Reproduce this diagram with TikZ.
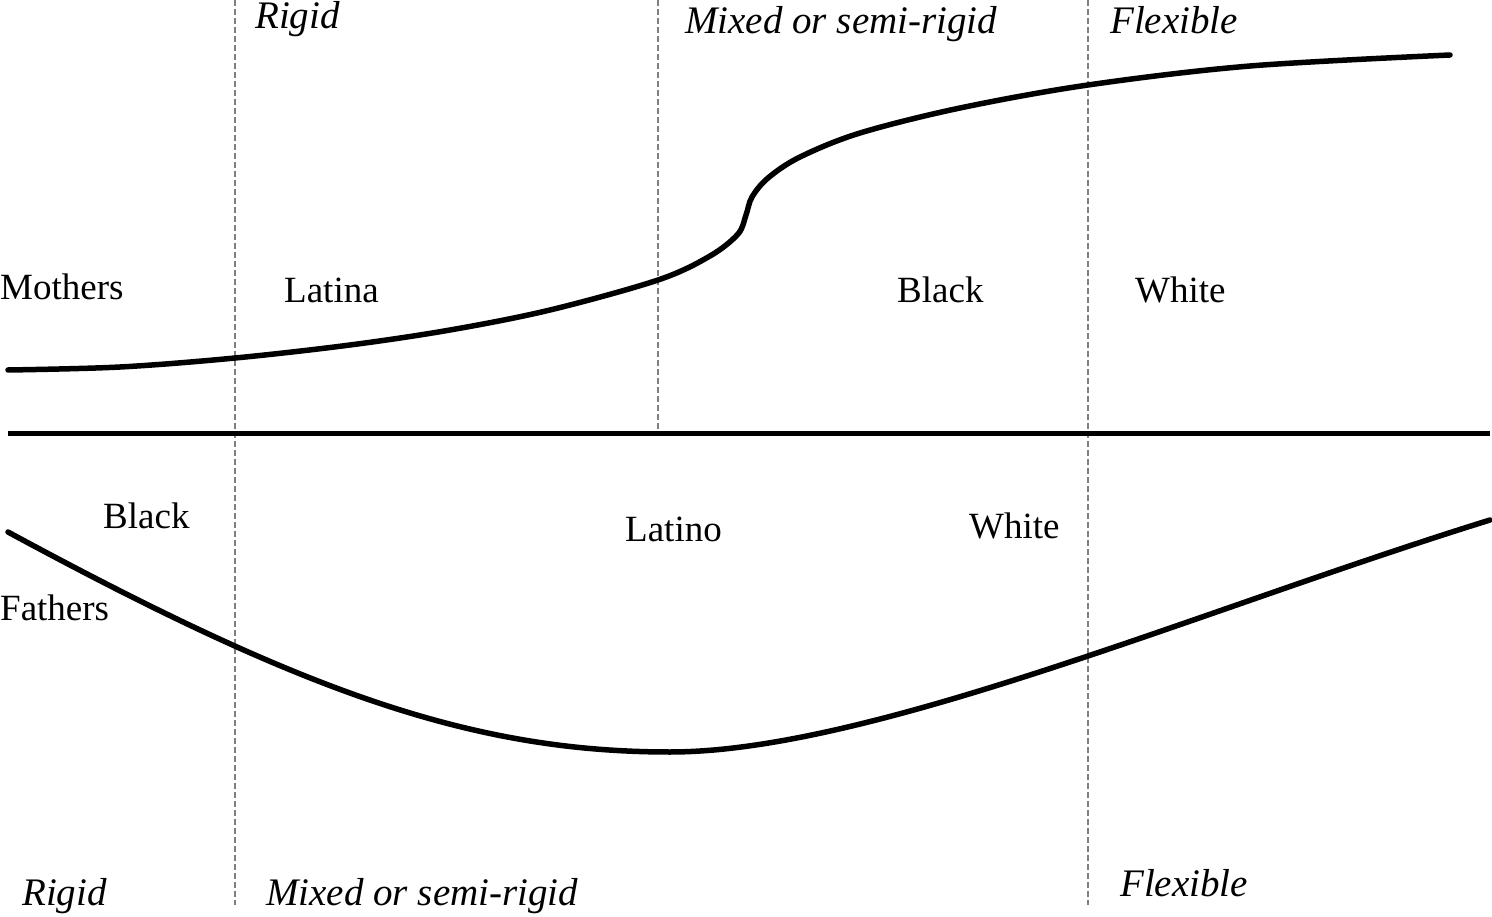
\documentclass[tikz,border=0pt]{standalone}
\usepackage{fontspec}
\setmainfont{Liberation Serif}
\tikzset{
  lbl/.style={anchor=base west, inner sep=0pt, font=\fontsize{37}{40}\selectfont},
  cat/.style={anchor=base west, inner sep=0pt, font=\fontsize{39}{42}\selectfont\itshape},
  curve/.style={line width=5.5pt, line cap=round},
  axisline/.style={line width=5pt},
  divider/.style={gray, line width=1.2pt, dash pattern=on 6pt off 3pt}
}
\begin{document}
\begin{tikzpicture}[x=1pt, y=-1pt]
\useasboundingbox (0,0) rectangle (1492,917);
% dashed dividers
\coordinate (d1t) at (235,0);   \coordinate (d1b) at (235,905);
\coordinate (d2t) at (658,0);   \coordinate (d2b) at (658,430);
\coordinate (d3t) at (1088,0);  \coordinate (d3b) at (1088,905);
\draw[divider] (d1t) -- (d1b);
\draw[divider] (d2t) -- (d2b);
\draw[divider] (d3t) -- (d3b);
% top categories
\node[cat] (trigid) at (255,29) {Rigid};
\node[cat] (tmixed) at (685,34) {Mixed or semi-rigid};
\node[cat] (tflex) at (1110,34) {Flexible};
% mothers
\node[lbl] (mothers) at (0,300) {Mothers};
\node[lbl] (latina) at (284,303) {Latina};
\node[lbl] (mblack) at (897,303) {Black};
\node[lbl] (mwhite) at (1135,303) {White};
\draw[curve] plot[smooth, tension=0.55] coordinates {
  (8,370) (120,367) (235,358) (350,345) (450,330) (550,310) (658,280)
  (710,256) (738,234) (746,215) (752,197) (768,178) (800,157) (860,133)
  (960,108) (1088,85) (1250,66) (1450,55)};
% horizontal axis
\coordinate (hl) at (8,433); \coordinate (hr) at (1490,433);
\draw[axisline] (hl) -- (hr);
% fathers
\node[lbl] (fblack) at (103,528) {Black};
\node[lbl] (latino) at (625,541) {Latino};
\node[lbl] (fwhite) at (969,538) {White};
\node[lbl] (fathers) at (0,620) {Fathers};
\coordinate (fs) at (8,532);
\coordinate (fm) at (670,752);
\coordinate (fe) at (1490,520);
\draw[curve] (fs) .. controls (300,690) and (470,752) .. (fm)
  .. controls (870,752) and (1200,610) .. (fe);
% bottom categories
\node[cat] (brigid) at (22,905) {Rigid};
\node[cat] (bmixed) at (266,905) {Mixed or semi-rigid};
\node[cat] (bflex) at (1120,896) {Flexible};
\end{tikzpicture}
\end{document}
